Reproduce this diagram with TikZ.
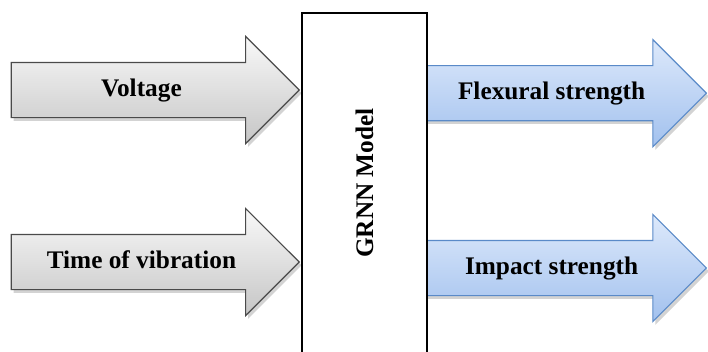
\documentclass[tikz,border=0pt]{standalone}
\usepackage{fontspec}
\setmainfont{Liberation Serif}
\usetikzlibrary{shapes.arrows,shadows}
\definecolor{inline}{HTML}{4A4A4A}
\definecolor{outline}{HTML}{5A8AC8}
\definecolor{outtop}{HTML}{DDE9FB}
\definecolor{outbot}{HTML}{A2C1EE}
\begin{document}
\begin{tikzpicture}[
    bigarrow/.style={single arrow, single arrow head extend=0.65cm, minimum width=2.65cm,
                     text height=0.45cm, text depth=0.15cm, inner ysep=0.375cm, anchor=tip,
                     font=\fontsize{18}{20}\selectfont\bfseries, line width=0.8pt,
                     drop shadow={opacity=0.35, shadow xshift=0.06cm, shadow yshift=-0.08cm}},
    inarrow/.style={bigarrow, draw=inline, top color=gray!5, bottom color=gray!45, minimum height=7.2cm},
    outarrow/.style={bigarrow, draw=outline, top color=outtop, bottom color=outbot, minimum height=7.05cm},
    model/.style={draw, line width=2pt, fill=white, rotate=90, minimum width=8.5cm, minimum height=3.125cm,
                  font=\fontsize{18}{20}\selectfont\bfseries}]
\useasboundingbox (0,0) rectangle (17.7,-8.775);
\node[inarrow] (volt) at (7.5,-2.25) {Voltage};
\node[inarrow] (time) at (7.5,-6.55) {Time of vibration};
\node[outarrow] (flex) at (17.68,-2.33) {Flexural strength};
\node[outarrow] (impact) at (17.68,-6.7) {Impact strength};
\node[model] (grnn) at (9.1125,-4.575) {GRNN Model};
\end{tikzpicture}
\end{document}
